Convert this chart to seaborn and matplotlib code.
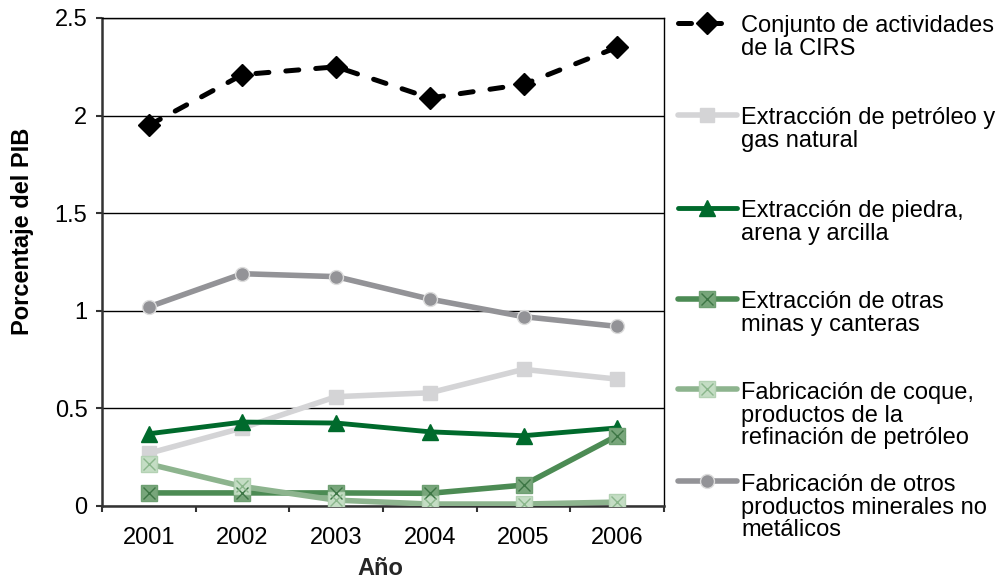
import numpy as np
import pandas as pd
import matplotlib
matplotlib.use("Agg")
import matplotlib.pyplot as plt
import seaborn as sns
from matplotlib.lines import Line2D

# Percentage of GDP by activity, 2001-2006
years = ["2001", "2002", "2003", "2004", "2005", "2006"]
conjunto_cirs = [1.95, 2.21, 2.25, 2.09, 2.16, 2.35]
petroleo_gas = [0.27, 0.40, 0.56, 0.58, 0.70, 0.65]
piedra_arena = [0.37, 0.43, 0.425, 0.38, 0.36, 0.40]
otras_minas = [0.067, 0.067, 0.067, 0.065, 0.107, 0.36]
coque_refinacion = [0.215, 0.10, 0.03, 0.01, 0.01, 0.02]
minerales_no_metalicos = [1.02, 1.19, 1.175, 1.06, 0.97, 0.92]

series_labels = [
    "Conjunto de actividades\nde la CIRS",
    "Extracción de petróleo y\ngas natural",
    "Extracción de piedra,\narena y arcilla",
    "Extracción de otras\nminas y canteras",
    "Fabricación de coque,\nproductos de la\nrefinación de petróleo",
    "Fabricación de otros\nproductos minerales no\nmetálicos",
]
series_values = [conjunto_cirs, petroleo_gas, piedra_arena, otras_minas,
                 coque_refinacion, minerales_no_metalicos]

# visual style of each series
styles = [
    dict(color="#000000", lw=3.6, marker="D", ms=11, mfc="#000000", mec="#000000",
         dashes=(2.6, 3.4), cross=None),
    dict(color="#d4d4d6", lw=4.0, marker="s", ms=10.5, mfc="#d4d4d6", mec="#d4d4d6",
         dashes=None, cross=None),
    dict(color="#006a2c", lw=3.5, marker="^", ms=11, mfc="#006a2c", mec="#006a2c",
         dashes=None, cross=None),
    dict(color="#4c8b54", lw=4.0, marker="s", ms=11, mfc="#78a67b", mec="#6e9f72",
         dashes=None, cross="#3d7645"),
    dict(color="#8db48e", lw=4.0, marker="s", ms=11, mfc="#c4ddc4", mec="#b4d2b4",
         dashes=None, cross="#8ab68b"),
    dict(color="#939397", lw=4.0, marker="o", ms=10, mfc="#939397", mec="#dcdcdc",
         dashes=None, cross=None),
]

df = pd.DataFrame({
    "Año": years * len(series_labels),
    "Porcentaje": np.concatenate(series_values),
    "Serie": np.repeat(series_labels, len(years)),
})

sns.set_theme(style="white")
plt.rcParams["font.family"] = ["Liberation Sans", "DejaVu Sans"]
FS = 17

W, H = 1001, 580
fig = plt.figure(figsize=(W / 100, H / 100), dpi=100)
ax = fig.add_axes([102 / W, 1 - 506 / H, (664 - 102) / W, (506 - 18) / H])

for label, st in zip(series_labels, styles):
    sub = df[df["Serie"] == label]
    sns.lineplot(data=sub, x="Año", y="Porcentaje", ax=ax, color=st["color"],
                 linewidth=st["lw"], marker=st["marker"], markersize=st["ms"],
                 markerfacecolor=st["mfc"], markeredgecolor=st["mec"],
                 markeredgewidth=1.0, legend=False, zorder=3)
    if st["dashes"] is not None:
        ax.lines[-1].set_dashes(st["dashes"])
        ax.lines[-1].set_dash_capstyle("round")
    if st["cross"] is not None:
        ax.plot(sub["Año"], sub["Porcentaje"], linestyle="none", marker="x",
                markersize=st["ms"] * 0.75, markeredgecolor=st["cross"],
                markeredgewidth=1.0, zorder=4)

ax.set_xlim(-0.5, 5.5)
ax.set_ylim(0, 2.5)
ax.set_yticks([0, 0.5, 1, 1.5, 2, 2.5])
ax.set_yticklabels(["0", "0.5", "1", "1.5", "2", "2.5"])
ax.set_xticks(range(len(years)))
ax.set_xticklabels(years)
ax.set_xticks(np.arange(-0.5, len(years), 1.0), minor=True)
ax.tick_params(axis="x", which="major", length=0, pad=15, labelsize=FS,
               labelcolor="#000000")
ax.tick_params(axis="x", which="minor", length=4.5, width=1.5, direction="out",
               color="#333333", bottom=True)
ax.tick_params(axis="y", which="major", length=4.5, width=1.5, direction="out",
               color="#333333", left=True, labelsize=FS, labelcolor="#000000", pad=6)

ax.yaxis.grid(True, color="#000000", linewidth=1.0)
ax.set_axisbelow(True)
for side in ["left", "bottom"]:
    ax.spines[side].set_color("#333333")
    ax.spines[side].set_linewidth(1.8)
for side in ["top", "right"]:
    ax.spines[side].set_color("#000000")
    ax.spines[side].set_linewidth(1.0)

ax.set_xlabel("Año", fontsize=FS, fontweight="bold", va="top")
ax.xaxis.set_label_coords(0.495, (506 - 557) / (506 - 18))
ax.set_ylabel("")


def px(x, y):
    return x / W, 1 - y / H


fig.text(*px(23, 231), "Porcentaje del PIB", rotation=90, ha="center", va="center",
         fontsize=FS, fontweight="bold", color="#000000")

# legend: handle aligned with the first line of each label
LINE_STEP = 23.3
legend_rows = [23, 115, 208, 299, 389, 481]
for label, st, yrow in zip(series_labels, styles, legend_rows):
    x0, x1 = (678, 723) if st["dashes"] is not None else (678, 737)
    (ax0, ay), (ax1, _) = px(x0, yrow), px(x1, yrow)
    ln = Line2D([ax0, ax1], [ay, ay], transform=fig.transFigure,
                color=st["color"], linewidth=st["lw"])
    if st["dashes"] is not None:
        ln.set_dashes(st["dashes"])
        ln.set_dash_capstyle("round")
    fig.add_artist(ln)
    mx, my = px(707, yrow)
    fig.add_artist(Line2D([mx], [my], transform=fig.transFigure, linestyle="none",
                          marker=st["marker"], markersize=st["ms"],
                          markerfacecolor=st["mfc"], markeredgecolor=st["mec"],
                          markeredgewidth=1.0))
    if st["cross"] is not None:
        fig.add_artist(Line2D([mx], [my], transform=fig.transFigure, linestyle="none",
                              marker="x", markersize=st["ms"] * 0.75,
                              markeredgecolor=st["cross"], markeredgewidth=1.0))
    n_lines = label.count("\n") + 1
    tx, ty = px(741, yrow + 8.5 + (n_lines - 1) * LINE_STEP)
    fig.text(tx, ty, label, ha="left", va="baseline", fontsize=FS, color="#000000",
             linespacing=1.02)

fig.savefig("out.png", dpi=100)
